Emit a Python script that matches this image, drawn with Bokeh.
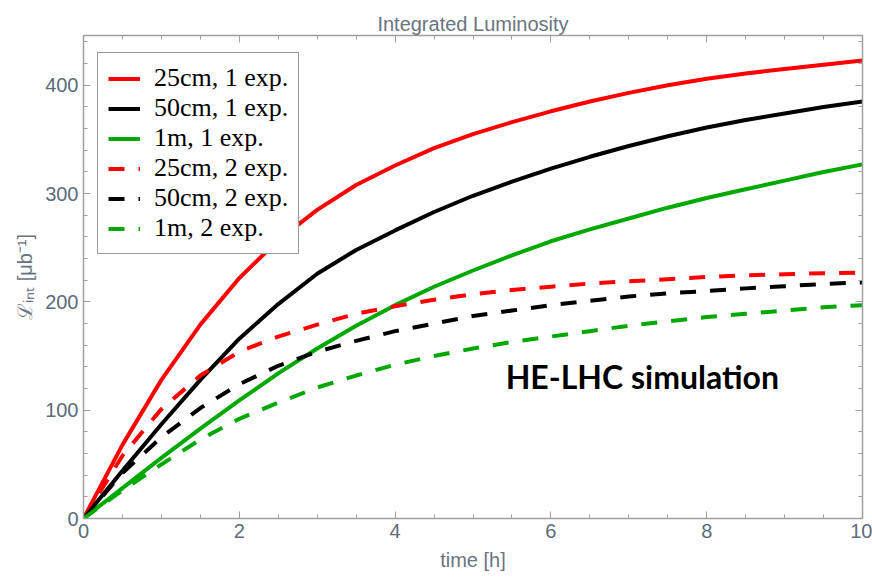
from bokeh.plotting import figure
from bokeh.models import (Range1d, LinearAxis, FixedTicker, Legend, LegendItem,
                          Label, CustomJSTickFormatter)
from bokeh.embed import file_html
from bokeh.resources import INLINE

# ---- data ----
time_h = [0, 0.5, 1, 1.5, 2, 2.5, 3, 3.5, 4, 4.5, 5,
          5.5, 6, 6.5, 7, 7.5, 8, 8.5, 9, 9.5, 10]
lum_25cm_1exp = [0, 68, 128, 179, 222, 257, 285, 308, 326, 342, 355,
                 366, 376, 385, 393, 400, 406, 411, 415, 419, 423]
lum_50cm_1exp = [0, 44, 87, 128, 166, 198, 226, 248, 266, 283, 298,
                 311, 323, 334, 344, 353, 361, 368, 374, 380, 385]
lum_1m_1exp = [0, 28, 56, 83, 109, 134, 157, 178, 197, 214, 229,
               243, 256, 267, 277, 287, 296, 304, 312, 320, 327]
lum_25cm_2exp = [0, 58, 101, 132, 154, 168, 179, 189, 196, 202, 207,
                 211, 214, 217, 219, 221, 223, 224.5, 225.5, 226.5, 227]
lum_50cm_2exp = [0, 42, 75, 102, 124, 141, 154, 164, 173, 180, 187,
                 192, 197, 201, 205, 208, 210, 212.5, 214.5, 216.5, 218]
lum_1m_2exp = [0, 26, 50, 73, 92, 107, 121, 132, 142, 150, 157,
               163, 168, 173, 178, 182, 186, 189, 192, 195, 197]

series_labels = ["25cm, 1 exp.", "50cm, 1 exp.", "1m, 1 exp.",
                 "25cm, 2 exp.", "50cm, 2 exp.", "1m, 2 exp."]
x_ticks = [0, 2, 4, 6, 8, 10]
y_ticks = [0, 100, 200, 300, 400]

RED = "#ff0000"
BLACK = "#000000"
GREEN = "#00a800"
AXIS_C = "#a0a0a0"
TICKLAB_C = "#5d6b7b"
LABEL_C = "#6a7480"

p = figure(width=872, height=580, output_backend="svg", toolbar_location=None,
           x_range=Range1d(0, 10), y_range=Range1d(0, 446),
           min_border_left=83, min_border_right=10, min_border_top=35,
           min_border_bottom=62, title="Integrated Luminosity")
p.background_fill_color = "white"
p.border_fill_color = "white"
p.outline_line_color = AXIS_C
p.grid.visible = False

p.title.align = "center"
p.title.text_font = "Liberation Sans"
p.title.text_font_size = "20px"
p.title.text_font_style = "normal"
p.title.text_color = LABEL_C
p.title.standoff = 2

x_minor = [i * 0.5 for i in range(21)]
y_minor = [i * 20 for i in range(23)]


def style_axis(ax, ticks, minor, show_labels=True):
    ax.ticker = FixedTicker(ticks=ticks, minor_ticks=minor)
    ax.axis_line_color = AXIS_C
    ax.axis_line_width = 1.5
    ax.major_tick_line_color = AXIS_C
    ax.minor_tick_line_color = AXIS_C
    ax.major_tick_in = 7
    ax.major_tick_out = 0
    ax.minor_tick_in = 4
    ax.minor_tick_out = 0
    ax.major_label_text_font = "Liberation Sans"
    ax.major_label_text_font_size = "20px"
    ax.major_label_text_color = TICKLAB_C
    ax.major_label_standoff = 5
    if not show_labels:
        ax.formatter = CustomJSTickFormatter(code="return ''")
        ax.major_label_standoff = 0


style_axis(p.xaxis[0], x_ticks, x_minor)
style_axis(p.yaxis[0], y_ticks, y_minor)
p.xaxis.axis_label = "time [h]"
p.yaxis.axis_label = "ℒᵢₙₜ [μb⁻¹]"
for ax in (p.xaxis[0], p.yaxis[0]):
    ax.axis_label_text_font = "Liberation Sans"
    ax.axis_label_text_font_size = "20px"
    ax.axis_label_text_font_style = "normal"
    ax.axis_label_text_color = LABEL_C
p.xaxis.axis_label_standoff = 8
p.yaxis.axis_label_standoff = 6

top_ax = LinearAxis()
style_axis(top_ax, x_ticks, x_minor, show_labels=False)
p.add_layout(top_ax, "above")
right_ax = LinearAxis()
style_axis(right_ax, y_ticks, y_minor, show_labels=False)
p.add_layout(right_ax, "right")

DASH = "16 14"
specs = [(lum_25cm_1exp, RED, "solid"), (lum_50cm_1exp, BLACK, "solid"),
         (lum_1m_1exp, GREEN, "solid"), (lum_25cm_2exp, RED, DASH),
         (lum_50cm_2exp, BLACK, DASH), (lum_1m_2exp, GREEN, DASH)]
renderers = []
for vals, col, dash in specs:
    r = p.line(time_h, vals, line_color=col, line_width=4, line_dash=dash,
               line_join="round")
    renderers.append(r)

items = [LegendItem(label=lab, renderers=[r]) for lab, r in zip(series_labels, renderers)]
legend = Legend(items=items, location=(14, 264), margin=0, padding=10, spacing=0,
                glyph_width=32, glyph_height=29, label_height=29, label_standoff=14,
                label_text_font="Liberation Serif", label_text_font_size="26px",
                label_text_color="#000000", border_line_color="#333333",
                border_line_width=1, background_fill_color="white",
                background_fill_alpha=1)
p.add_layout(legend)

ann = Label(x=5.42, y=131, text="HE-LHC simulation", text_font="Lato",
            text_font_style="bold", text_font_size="32px", text_color="black",
            text_baseline="alphabetic")
p.add_layout(ann)

open("out.html", "w").write(file_html(p, INLINE))
